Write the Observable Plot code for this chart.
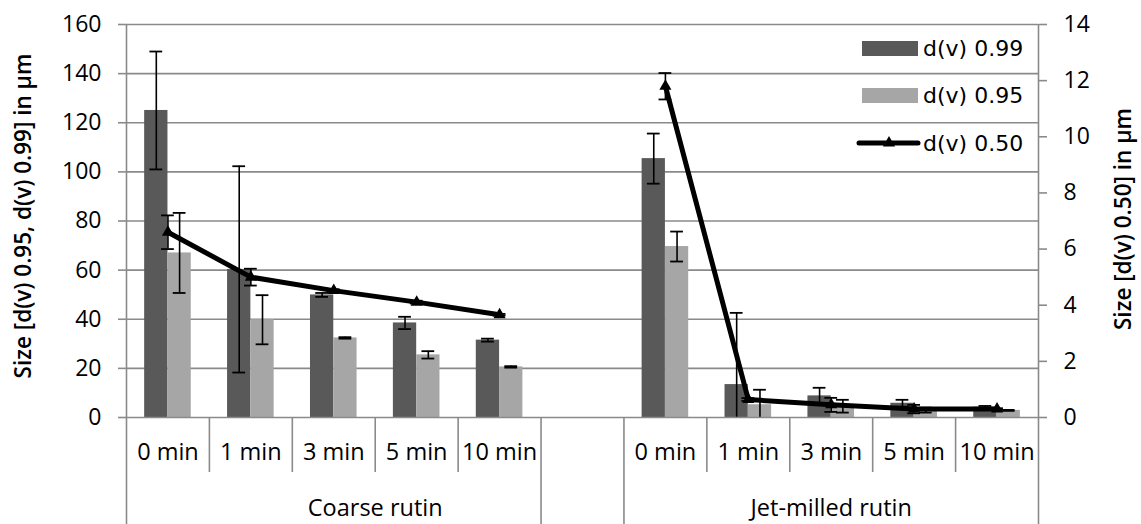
<!DOCTYPE html>
<html>
<head>
<meta charset="utf-8">
<script src="https://cdn.jsdelivr.net/npm/d3@7"></script>
<script src="https://cdn.jsdelivr.net/npm/@observablehq/plot@0.6"></script>
<style>
  html, body { margin: 0; padding: 0; background: #fff; }
  #wrap { position: relative; width: 1141px; height: 524px; }
  #legend { position: absolute; left: 0; top: 0; }
</style>
</head>
<body>
<div id="wrap"></div>
<script>
// ---- data ----
const minutes = ["0 min", "1 min", "3 min", "5 min", "10 min"];
const groups = ["Coarse rutin", "Jet-milled rutin"];
const seriesNames = ["d(v) 0.99", "d(v) 0.95", "d(v) 0.50"];

const coarseD99 = [125, 60.3, 49.9, 38.5, 31.5];
const coarseD99Err = [24, 42, 0.8, 2.5, 0.6];
const coarseD95 = [67, 39.8, 32.4, 25.5, 20.6];
const coarseD95Err = [16.3, 10, 0.3, 1.5, 0.3];
const coarseD50 = [6.6, 5.0, 4.52, 4.11, 3.66];
const coarseD50Err = [0.6, 0.3, 0.05, 0.05, 0.03];

const jetD99 = [105.4, 13.4, 8.8, 5.8, 4.2];
const jetD99Err = [10.2, 29.2, 3.3, 1.4, 0.5];
const jetD95 = [69.6, 5.2, 4.6, 3.0, 2.9];
const jetD95Err = [6.1, 6.1, 2.6, 1.0, 0.2];
const jetD50 = [11.8, 0.64, 0.45, 0.30, 0.30];
const jetD50Err = [0.47, 0.05, 0.25, 0.15, 0.03];

const leftTicks = [0, 20, 40, 60, 80, 100, 120, 140, 160];
const rightTicks = [0, 2, 4, 6, 8, 10, 12, 14];
const leftTitle = "Size [d(v) 0.95, d(v) 0.99] in µm";
const rightTitle = "Size [d(v) 0.50] in µm";

// ---- build table ----
const K = 160 / 14; // right-axis to left-axis conversion
const rows = [];
minutes.forEach((m, j) => {
  rows.push({group: groups[0], minute: m, slot: j,
    d99: coarseD99[j], e99: coarseD99Err[j], d95: coarseD95[j], e95: coarseD95Err[j],
    d50: coarseD50[j], e50: coarseD50Err[j]});
});
minutes.forEach((m, j) => {
  rows.push({group: groups[1], minute: m, slot: j + 6,
    d99: jetD99[j], e99: jetD99Err[j], d95: jetD95[j], e95: jetD95Err[j],
    d50: jetD50[j], e50: jetD50Err[j]});
});
const nSlots = 11;
const groupSpans = [{name: groups[0], from: 0, to: 6}, {name: groups[1], from: 6, to: 11}];

const BW = 0.281;   // bar width in slot units
const CAP = 0.077;  // half cap width in slot units
const c = d => d.slot + 0.5;
const dark = "#595959", light = "#a6a6a6", grid = "#8a8a8a";
const FONT = "Open Sans";

function errMarks(val, err, xf) {
  return [
    Plot.ruleX(rows, {x: xf, y1: d => Math.max(0, val(d) - err(d)), y2: d => val(d) + err(d), stroke: "black", strokeWidth: 1.6}),
    Plot.ruleY(rows, {y: d => val(d) + err(d), x1: d => xf(d) - CAP, x2: d => xf(d) + CAP, stroke: "black", strokeWidth: 1.8}),
    Plot.ruleY(rows.filter(d => val(d) - err(d) >= 0), {y: d => val(d) - err(d), x1: d => xf(d) - CAP, x2: d => xf(d) + CAP, stroke: "black", strokeWidth: 1.8})
  ];
}

const chart = Plot.plot({
  width: 1141,
  height: 524,
  marginLeft: 126,
  marginRight: 103,
  marginTop: 24,
  marginBottom: 107,
  style: {fontFamily: FONT, fontSize: "23px", color: "black", background: "white"},
  x: {type: "linear", domain: [0, nSlots], axis: null},
  y: {domain: [0, 160], axis: null},
  marks: [
    Plot.ruleY(leftTicks.filter(t => t > 0), {stroke: grid, strokeWidth: 1.6}),
    // bars
    Plot.rectY(rows, {x1: d => c(d) - BW, x2: d => c(d), y: "d99", fill: dark}),
    Plot.rectY(rows, {x1: d => c(d), x2: d => c(d) + BW, y: "d95", fill: light}),
    ...errMarks(d => d.d99, d => d.e99, d => c(d) - BW / 2),
    ...errMarks(d => d.d95, d => d.e95, d => c(d) + BW / 2),
    // d50 line on right axis
    Plot.line(rows, {x: c, y: d => d.d50 * K, z: "group", stroke: "black", strokeWidth: 5, strokeLinejoin: "round"}),
    Plot.dot(rows, {x: c, y: d => d.d50 * K, symbol: "triangle", r: 4.5, fill: "black"}),
    ...errMarks(d => d.d50 * K, d => d.e50 * K, c),
    // baseline & axes frame lines
    Plot.ruleY([0], {stroke: grid, strokeWidth: 1.6}),
    Plot.axisY(leftTicks, {anchor: "left", tickSize: 8, tickPadding: 17, stroke: grid, strokeWidth: 1.6, label: null, fontSize: 23}),
    Plot.axisY(rightTicks.map(t => t * K), {anchor: "right", tickSize: 8, tickPadding: 17, stroke: grid, strokeWidth: 1.6, label: null, fontSize: 23, tickFormat: v => String(Math.round(v / K))}),
    Plot.ruleX([0, nSlots], {stroke: grid, strokeWidth: 1.6, insetBottom: -107}),
    // category axis: dividers
    Plot.axisX([1, 2, 3, 4, 7, 8, 9, 10], {anchor: "bottom", tickSize: 55, stroke: grid, strokeWidth: 1.6, tickFormat: () => "", label: null}),
    Plot.axisX([5, 6], {anchor: "bottom", tickSize: 107, stroke: grid, strokeWidth: 1.6, tickFormat: () => "", label: null}),
    Plot.text(rows, {x: c, y: 0, dy: 35, text: "minute", fill: "black", fontSize: 23.5, lineAnchor: "middle"}),
    Plot.text(groupSpans, {x: d => (d.from + d.to) / 2, y: 0, dy: 91, text: "name", fill: "black", fontSize: 23.5, lineAnchor: "middle"}),
    // axis titles
    Plot.text([leftTitle], {frameAnchor: "left", textAnchor: "middle", dx: -103, dy: -5, rotate: -90, fontWeight: 600, fontSize: 22.5, fill: "black"}),
    Plot.text([rightTitle], {frameAnchor: "right", textAnchor: "middle", dx: 85, dy: -2, rotate: -90, fontWeight: 600, fontSize: 22.5, fill: "black"})
  ]
});

const wrap = document.getElementById("wrap");
wrap.appendChild(chart);

// ---- legend (overlay, top-right inside plot) ----
const leg = d3.select(wrap).append("svg").attr("id", "legend")
  .attr("width", 1141).attr("height", 524)
  .style("pointer-events", "none");
const items = [
  {name: seriesNames[0], kind: "bar", color: dark, y: 48.5},
  {name: seriesNames[1], kind: "bar", color: light, y: 95.5},
  {name: seriesNames[2], kind: "line", color: "black", y: 143}
];
items.forEach(it => {
  if (it.kind === "bar") {
    leg.append("rect").attr("x", 862).attr("y", it.y - 7.5).attr("width", 56).attr("height", 15).attr("fill", it.color);
  } else {
    leg.append("line").attr("x1", 859).attr("x2", 918).attr("y1", it.y).attr("y2", it.y)
      .attr("stroke", "black").attr("stroke-width", 5).attr("stroke-linecap", "round");
    leg.append("path").attr("d", d3.symbol(d3.symbolTriangle, 64)())
      .attr("transform", `translate(889,${it.y})`).attr("fill", "black");
  }
  leg.append("text").attr("x", 923).attr("y", it.y).attr("dy", "0.35em")
    .attr("font-family", "DejaVu Sans").attr("font-size", 22).attr("fill", "black").text(it.name);
});
</script>
</body>
</html>
